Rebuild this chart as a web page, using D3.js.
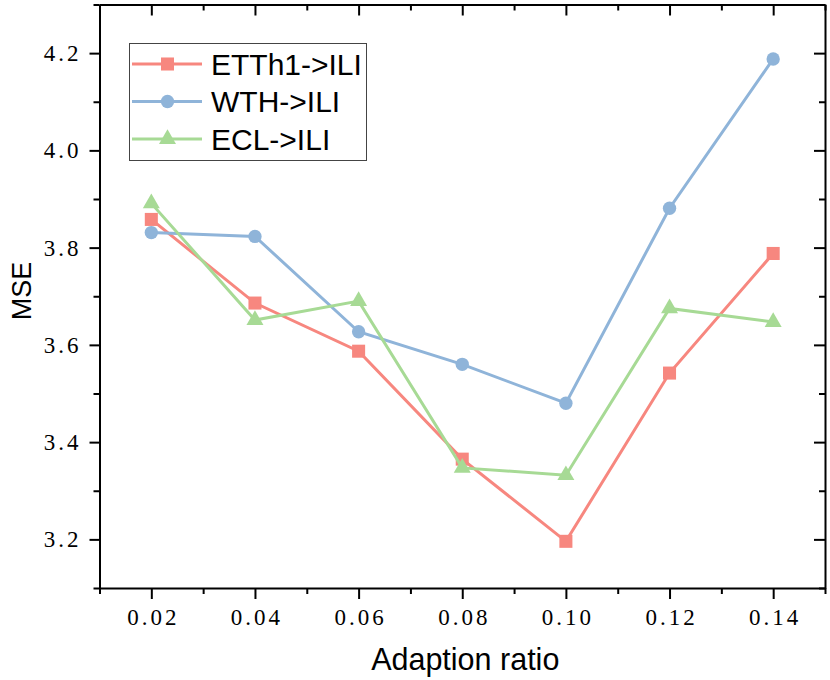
<!DOCTYPE html>
<html>
<head>
<meta charset="utf-8">
<script src="https://cdn.jsdelivr.net/npm/d3@7"></script>
<style>
  body { margin: 0; background: #fff; }
  .tick text { font-family: "Liberation Serif", "DejaVu Serif", serif; font-size: 23px; letter-spacing: 3px; fill: #000; }
  .axis path, .axis line { stroke: #000; stroke-width: 2px; }
  .title { font-family: "Liberation Sans", Arial, sans-serif; fill: #000; }
</style>
</head>
<body>
<script>

var ratios = [0.02, 0.04, 0.06, 0.08, 0.10, 0.12, 0.14];
var xTickLabels = ["0.02", "0.04", "0.06", "0.08", "0.10", "0.12", "0.14"];
var yTicks = [3.2, 3.4, 3.6, 3.8, 4.0, 4.2];
var yTickLabels = ["3.2", "3.4", "3.6", "3.8", "4.0", "4.2"];

var etth1 = [3.858, 3.686, 3.587, 3.365, 3.196, 3.542, 3.788];
var wth = [3.831, 3.823, 3.627, 3.560, 3.480, 3.881, 4.188];
var ecl = [3.891, 3.651, 3.690, 3.347, 3.332, 3.675, 3.647];

var seriesNames = ["ETTh1->ILI", "WTH->ILI", "ECL->ILI"];
var seriesColors = ["#f7877f", "#8fb4d9", "#a7da95"];
var seriesShapes = [d3.symbolSquare, d3.symbolCircle, d3.symbolTriangle];

var series = [etth1, wth, ecl].map(function(vals, i) {
  return {
    name: seriesNames[i],
    color: seriesColors[i],
    shape: seriesShapes[i],
    values: vals.map(function(v, j) { return {x: ratios[j], y: v}; })
  };
});

var width = 830, height = 680;
var plotLeft = 99.5, plotRight = 825, plotTop = 4.5, plotBottom = 588;

var svg = d3.select("body").append("svg")
    .attr("width", width)
    .attr("height", height);

var x = d3.scaleLinear().domain([0.01, 0.15]).range([plotLeft, plotRight]);
var y = d3.scaleLinear().domain([3.1, 4.3]).range([plotBottom, plotTop]);

var xMinor = d3.range(0.01, 0.151, 0.02);
var yMinor = d3.range(3.1, 4.31, 0.2);

// minor ticks first
svg.append("g")
    .attr("class", "axis")
    .attr("transform", "translate(0," + plotBottom + ")")
    .call(d3.axisBottom(x).tickValues(xMinor).tickSize(6).tickFormat(""))
    .select(".domain").remove();
svg.append("g")
    .attr("class", "axis")
    .attr("transform", "translate(" + plotLeft + ",0)")
    .call(d3.axisLeft(y).tickValues(yMinor).tickSize(6).tickFormat(""))
    .select(".domain").remove();
svg.append("g")
    .attr("class", "axis")
    .attr("transform", "translate(0," + plotTop + ")")
    .call(d3.axisTop(x).tickValues(xMinor).tickSize(-6).tickFormat(""))
    .select(".domain").remove();
svg.append("g")
    .attr("class", "axis")
    .attr("transform", "translate(" + plotRight + ",0)")
    .call(d3.axisRight(y).tickValues(yMinor).tickSize(-6).tickFormat(""))
    .select(".domain").remove();

// major ticks + labels
svg.append("g")
    .attr("class", "axis")
    .attr("transform", "translate(0," + plotBottom + ")")
    .call(d3.axisBottom(x).tickValues(ratios).tickSize(11).tickSizeOuter(0)
      .tickPadding(10)
      .tickFormat(function(d, i) { return xTickLabels[i]; }))
    .selectAll(".tick text").attr("dx", "1.5px");

svg.append("g")
    .attr("class", "axis")
    .attr("transform", "translate(" + plotLeft + ",0)")
    .call(d3.axisLeft(y).tickValues(yTicks).tickSize(10).tickSizeOuter(0)
      .tickPadding(8)
      .tickFormat(function(d, i) { return yTickLabels[i]; }));

svg.append("g")
    .attr("class", "axis")
    .attr("transform", "translate(0," + plotTop + ")")
    .call(d3.axisTop(x).tickValues(ratios).tickSize(-11).tickSizeOuter(0).tickFormat(""));

svg.append("g")
    .attr("class", "axis")
    .attr("transform", "translate(" + plotRight + ",0)")
    .call(d3.axisRight(y).tickValues(yTicks).tickSize(-11).tickSizeOuter(0).tickFormat(""));

// lines and markers
var line = d3.line()
    .x(function(d) { return x(d.x); })
    .y(function(d) { return y(d.y); });

var sizes = [170, 140, 125];

series.forEach(function(s, i) {
  var g = svg.append("g");
  g.append("path")
      .datum(s.values)
      .attr("fill", "none")
      .attr("stroke", s.color)
      .attr("stroke-width", 3)
      .attr("d", line);
  g.selectAll("path.pt")
      .data(s.values)
    .enter().append("path")
      .attr("class", "pt")
      .attr("transform", function(d) { return "translate(" + x(d.x) + "," + y(d.y) + ")"; })
      .attr("fill", s.color)
      .attr("d", d3.symbol().type(s.shape).size(sizes[i]));
});

// legend
var legend = svg.append("g");
legend.append("rect")
    .attr("x", 129.5)
    .attr("y", 43.5)
    .attr("width", 237)
    .attr("height", 117)
    .attr("fill", "#fff")
    .attr("stroke", "#444")
    .attr("stroke-width", 1);

var item = legend.selectAll("g.item")
    .data(series)
  .enter().append("g")
    .attr("class", "item")
    .attr("transform", function(d, i) { return "translate(0," + (64 + i * 37.5) + ")"; });

item.append("line")
    .attr("x1", 132).attr("x2", 202)
    .attr("stroke", function(d) { return d.color; })
    .attr("stroke-width", 3);

item.append("path")
    .attr("transform", "translate(167.5,0)")
    .attr("fill", function(d) { return d.color; })
    .attr("d", function(d, i) { return d3.symbol().type(d.shape).size(sizes[i])(); });

item.append("text")
    .attr("class", "title")
    .attr("x", 211)
    .attr("dy", "0.36em")
    .style("font-size", "30px")
    .text(function(d) { return d.name; });

// axis titles
svg.append("text")
    .attr("class", "title")
    .attr("x", (plotLeft + plotRight) / 2 + 3)
    .attr("y", 670)
    .attr("text-anchor", "middle")
    .style("font-size", "30.5px")
    .text("Adaption ratio");

svg.append("text")
    .attr("class", "title")
    .attr("transform", "translate(31,291) rotate(-90)")
    .attr("text-anchor", "middle")
    .style("font-size", "27px")
    .text("MSE");

</script>
</body>
</html>
